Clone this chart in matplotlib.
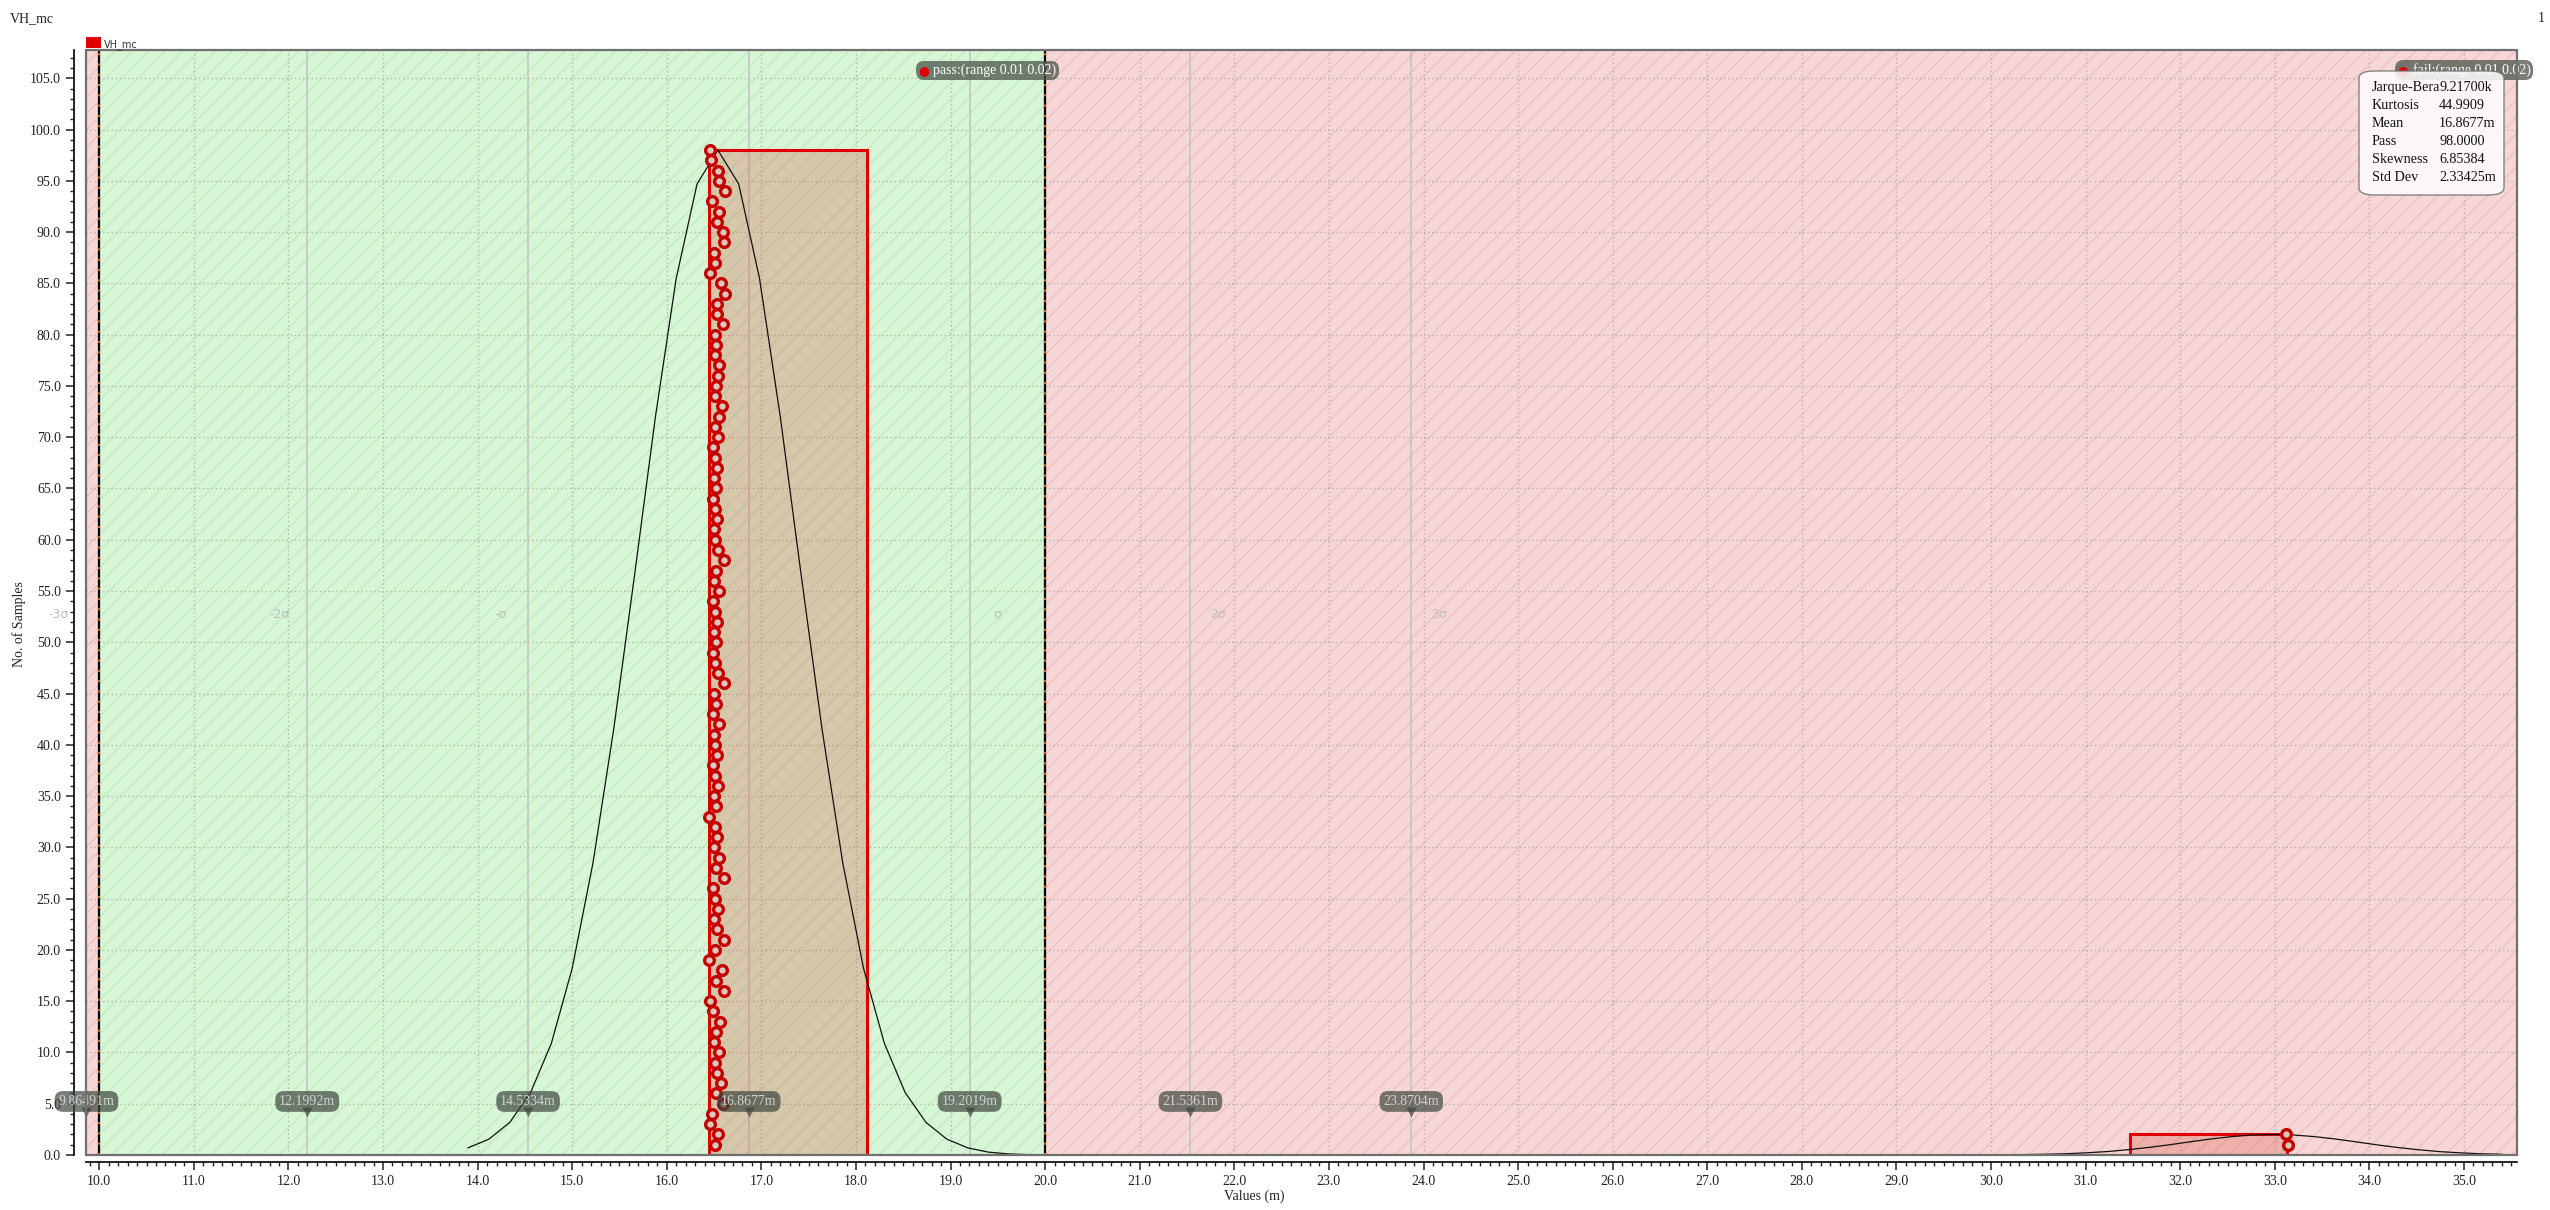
import matplotlib
matplotlib.use('Agg')
import matplotlib.pyplot as plt
import numpy as np
from matplotlib.offsetbox import TextArea, HPacker, AnnotationBbox
from matplotlib.patches import Rectangle, FancyBboxPatch
from matplotlib.ticker import MultipleLocator, FormatStrFormatter

plt.rcParams['font.family'] = ['Liberation Serif', 'DejaVu Serif']
plt.rcParams['lines.scale_dashes'] = False
plt.rcParams['hatch.linewidth'] = 0.8

# ---------------- data ----------------
title = 'VH_mc'
series_name = 'VH_mc'
pass_range = (10.0, 20.0)
pass_label = 'pass:(range 0.01 0.02)'
fail_label = 'fail:(range 0.01 0.02)'

hist_min, hist_max = 16.448, 33.132
hist_counts = [98, 0, 0, 0, 0, 0, 0, 0, 0, 2]

# sample values (m) in rank order, rank 1 at the bottom
pass_samples = [16.508, 16.543, 16.456, 16.474, 16.590, 16.519, 16.569,
                16.53, 16.51, 16.55, 16.50, 16.52, 16.56, 16.49, 16.46, 16.60, 16.52,
                16.58, 16.45, 16.51, 16.60, 16.53, 16.50, 16.54, 16.51, 16.49, 16.60,
                16.52, 16.55, 16.50, 16.53, 16.51, 16.45, 16.52, 16.50, 16.54, 16.51,
                16.49, 16.53, 16.51, 16.50, 16.55, 16.49, 16.52, 16.50, 16.60, 16.54,
                16.51, 16.49, 16.52, 16.50, 16.53, 16.51, 16.49, 16.55, 16.50, 16.52,
                16.61, 16.54, 16.51, 16.50, 16.53, 16.51, 16.49, 16.52, 16.50, 16.53,
                16.51, 16.49, 16.54, 16.51, 16.55, 16.58, 16.51, 16.52, 16.54, 16.55,
                16.51, 16.52, 16.51,
                16.59, 16.535, 16.53, 16.62, 16.57, 16.46, 16.51, 16.50, 16.61, 16.59,
                16.53, 16.555, 16.476, 16.617, 16.555, 16.54, 16.466, 16.46]
fail_samples = [33.14, 33.12]

# fitted normal curves
curve1_x = [13.90, 14.12, 14.34, 14.56, 14.78, 15.00, 15.22, 15.44, 15.66, 15.88, 16.10, 16.32,
            16.54, 16.76, 16.98, 17.20, 17.42, 17.64, 17.86, 18.08, 18.30, 18.52, 18.74, 18.96,
            19.18, 19.40, 19.62, 19.84, 20.06]
curve1_y = [0.70, 1.55, 3.18, 6.09, 10.9, 18.2, 28.5, 41.6, 56.6, 72.0, 85.5, 94.7,
            98.0, 94.7, 85.5, 72.0, 56.6, 41.6, 28.5, 18.2, 10.9, 6.09, 3.18, 1.55,
            0.70, 0.28, 0.10, 0.03, 0.01]
curve2_x = [29.02, 29.24, 29.46, 29.68, 29.90, 30.12, 30.34, 30.56, 30.78, 31.00, 31.22, 31.44,
            31.66, 31.88, 32.10, 32.32, 32.54, 32.76, 32.98, 33.20, 33.42, 33.64, 33.86, 34.08,
            34.30, 34.52, 34.74, 34.96, 35.18, 35.40]
curve2_y = [0.00, 0.00, 0.00, 0.00, 0.01, 0.02, 0.04, 0.07, 0.12, 0.21, 0.33, 0.51,
            0.73, 0.99, 1.28, 1.56, 1.79, 1.95, 2.00, 1.95, 1.79, 1.56, 1.28, 0.99,
            0.73, 0.51, 0.33, 0.21, 0.12, 0.07]

sigma_values = [9.86491, 12.1992, 14.5334, 16.8677, 19.2019, 21.5361, 23.8704]
sigma_texts = ['-3σ', '-2σ', '-σ', 'σ', '2σ', '3σ']

stat_names = ['Jarque-Bera', 'Kurtosis', 'Mean', 'Pass', 'Skewness', 'Std Dev']
stat_values = ['9.21700k', '44.9909', '16.8677m', '98.0000', '6.85384', '2.33425m']

x_ticks = np.arange(10, 36, 1.0)
y_ticks = np.arange(0, 106, 5.0)

# ---------------- style ----------------
GREEN = '#d6f6d6'
GREEN_H = '#bfeabf'
PINK = '#f7d6d6'
PINK_H = '#ecbcbc'
RED = '#e00000'

W, H = 2550, 1210
fig = plt.figure(figsize=(W / 100, H / 100), dpi=100)
ax = fig.add_axes([86 / W, 1 - 1155 / H, (2517 - 86) / W, (1155 - 50) / H])
xlim = (9.86, 35.56)
ylim = (0.0, 107.76)
ax.set_xlim(*xlim)
ax.set_ylim(*ylim)

def fx(px):
    return px / W

def fy(py):
    return 1 - py / H

# regions
ax.axvspan(xlim[0], pass_range[0], facecolor=PINK, edgecolor=PINK_H, hatch='//', lw=0, zorder=0)
ax.axvspan(pass_range[0], pass_range[1], facecolor=GREEN, edgecolor=GREEN_H, hatch='//', lw=0, zorder=0)
ax.axvspan(pass_range[1], xlim[1], facecolor=PINK, edgecolor=PINK_H, hatch='//', lw=0, zorder=0)

# grid
ax.xaxis.set_major_locator(MultipleLocator(1.0))
ax.xaxis.set_minor_locator(MultipleLocator(0.1))
ax.yaxis.set_major_locator(MultipleLocator(5.0))
ax.yaxis.set_minor_locator(MultipleLocator(1.0))
ax.grid(True, which='major', color='#a0a0a0', lw=1.0, ls=(0, (1, 2)), alpha=0.7, zorder=0.5)
ax.set_axisbelow(True)

# sigma lines
for v in sigma_values:
    ax.axvline(v, color='#c4c4c4', lw=1.2, zorder=1)

# pass/fail boundary lines
for b in pass_range:
    ax.axvline(b, color='black', lw=1.6, zorder=1.6)
    ax.axvline(b, color='#d2691e', lw=1.6, dashes=(1.5, 5.9), zorder=1.7)

# histogram
edges = np.linspace(hist_min, hist_max, len(hist_counts) + 1)
for i, c in enumerate(hist_counts):
    if c > 0:
        ax.bar(edges[i], c, width=edges[i + 1] - edges[i], align='edge',
               facecolor=(0.85, 0.35, 0.28, 0.3), edgecolor=RED, lw=2.2, zorder=2)

# normal curves
ax.plot(curve1_x, curve1_y, color='#111111', lw=0.9, zorder=3)
ax.plot(curve2_x, curve2_y, color='#111111', lw=0.9, zorder=3)

# samples
ranks_pass = np.arange(1, len(pass_samples) + 1)
ranks_fail = np.arange(1, len(fail_samples) + 1)
mk = dict(ls='none', marker='o', ms=7, mew=2.4, mec='#c40000', mfc='#dcc8bc', zorder=4)
ax.plot(pass_samples, ranks_pass, **mk)
ax.plot(fail_samples, ranks_fail, **mk)

# sigma text labels
for i, t in enumerate(sigma_texts):
    v = sigma_values[i] if i < 3 else sigma_values[i + 1]
    dx = -20 if i < 3 else 20
    ax.annotate(t, xy=(v, 52.7), xytext=(dx, 0), textcoords='offset points',
                ha='center', va='center', fontsize=9, color='#bdbdbd',
                family='DejaVu Sans', zorder=1.2, annotation_clip=False)

# callouts
CALL = '#3e463e'
for v in sigma_values:
    ax.annotate(f'{v:g}m', xy=(v, 5.22), ha='center', va='center', fontsize=10,
                color='#d2d2d2', zorder=6, annotation_clip=False,
                bbox=dict(boxstyle='round,pad=0.28,rounding_size=0.6', fc=CALL, ec='none', alpha=0.7))
    ax.plot(v, 4.2, marker='v', ms=7, color=CALL, alpha=0.7, mec='none', zorder=6, clip_on=False)

# pass / fail tags
def tag(label, x, y):
    dot = TextArea('●', textprops=dict(color=RED, fontsize=9, family='DejaVu Sans'))
    txt = TextArea(label, textprops=dict(color='white', fontsize=10))
    pk = HPacker(children=[dot, txt], align='center', pad=0, sep=3)
    ab = AnnotationBbox(pk, (x, y), xycoords='data', frameon=True, pad=0.25,
                        bboxprops=dict(boxstyle='round,pad=0.2,rounding_size=0.6',
                                       fc='#4a544a', ec='none', alpha=0.75),
                        annotation_clip=False, zorder=7)
    ax.add_artist(ab)

tag(pass_label, 19.39, 105.8)
tag(fail_label, 35.0, 105.8)

# stats box (manual layout)
box = FancyBboxPatch((fx(2359), fy(195)), fx(2504) - fx(2359), fy(71) - fy(195),
                     boxstyle='round,pad=0,rounding_size=0.006', transform=fig.transFigure,
                     fc='white', ec='#707070', lw=1.0, alpha=0.85, zorder=8, clip_on=False)
ax.add_patch(box)
row_y = [87.5, 105.5, 123.5, 141.5, 159.5, 177.5]
for n, v, ry in zip(stat_names, stat_values, row_y):
    ax.text(fx(2372), fy(ry), n, transform=fig.transFigure, fontsize=10.2, color='#111111',
            ha='left', va='center', zorder=9)
    ax.text(fx(2439), fy(ry), v, transform=fig.transFigure, fontsize=10.2, color='#111111',
            ha='left', va='center', zorder=9)

# frame
ax.add_patch(Rectangle((0, 0), 1, 1, transform=ax.transAxes, fill=False,
                       ec='#707070', lw=1.6, zorder=9, clip_on=False))

# axes / spines
for s in ['top', 'right']:
    ax.spines[s].set_visible(False)
ax.spines['left'].set_position(('outward', 8.5))
ax.spines['bottom'].set_position(('outward', 5))
ax.spines['left'].set_linewidth(1.2)
ax.spines['bottom'].set_linewidth(1.2)
ax.xaxis.set_major_formatter(FormatStrFormatter('%.1f'))
ax.yaxis.set_major_formatter(FormatStrFormatter('%.1f'))
ax.set_xticks(x_ticks)
ax.set_yticks(y_ticks)
ax.tick_params(which='major', length=6, width=1.1, labelsize=10, colors='#222222')
ax.tick_params(which='minor', length=3, width=1.0, colors='#222222')

# texts outside
fig.text(fx(10), fy(22), title, fontsize=10, va='baseline', ha='left', color='#222222')
fig.text(fx(2545), fy(22), '1', fontsize=10, va='baseline', ha='right', color='#222222')
fig.patches.append(Rectangle((fx(86), fy(47.7)), 14.7 / W, 10.4 / H, transform=fig.transFigure,
                             fc=RED, ec='none'))
fig.text(fx(104), fy(47), series_name, fontsize=7, va='baseline', ha='left',
         family='DejaVu Sans', color='#333333')
fig.text(fx(1254), fy(1200), 'Values (m)', fontsize=10, ha='center', va='baseline', color='#222222')
fig.text(fx(19), fy(624), 'No. of Samples', fontsize=10, ha='center', va='center',
         rotation=90, color='#222222')

fig.savefig('out.png', dpi=100)
